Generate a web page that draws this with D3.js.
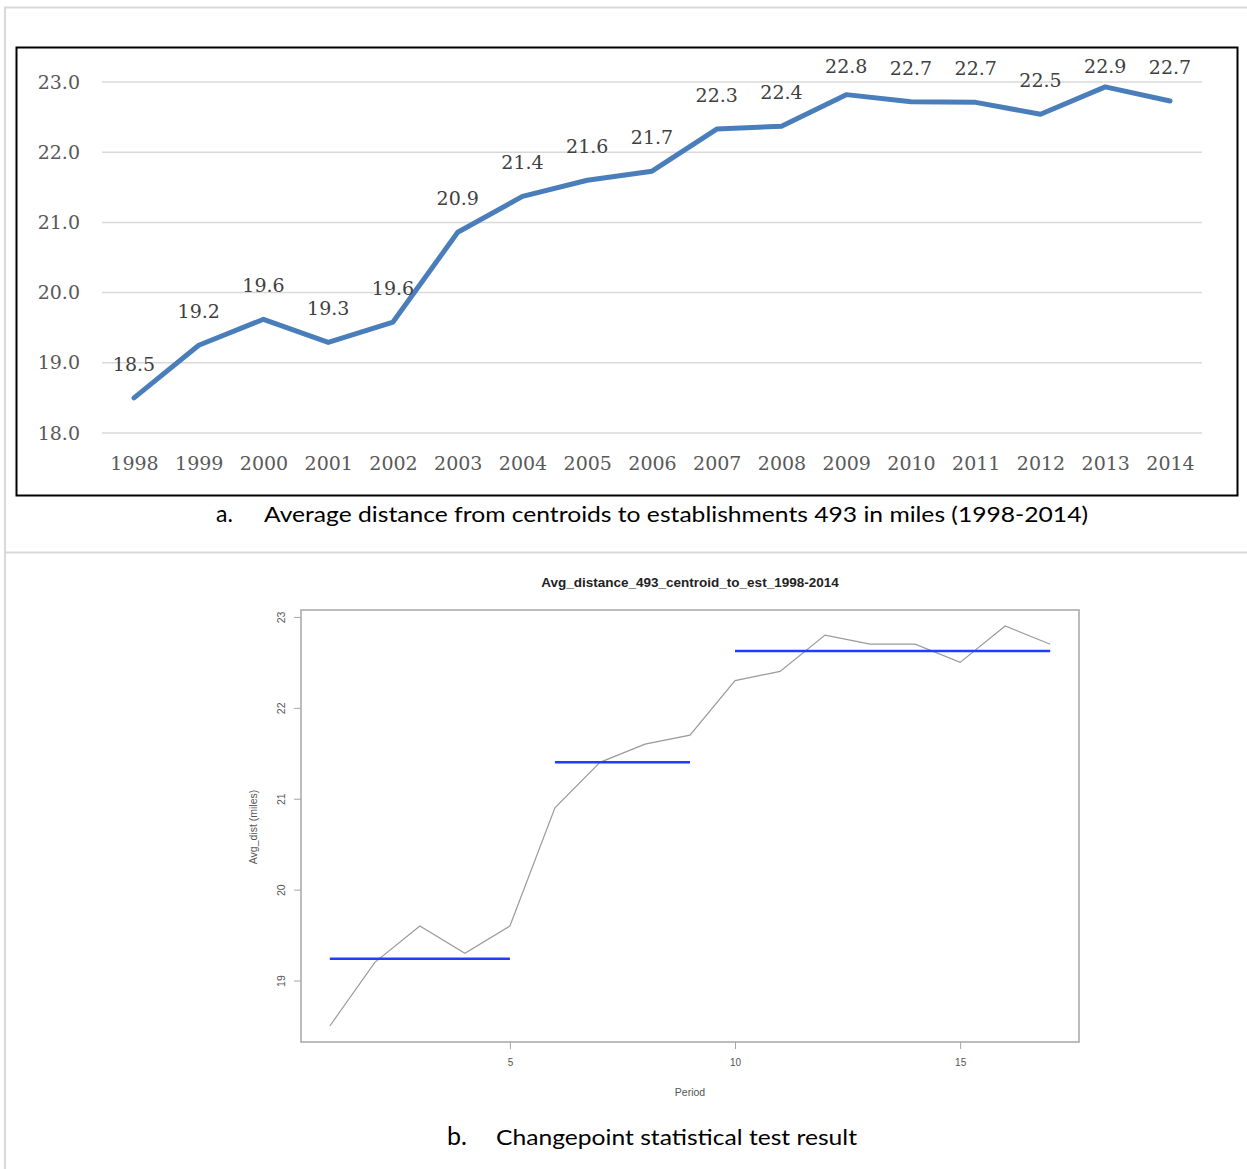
<!DOCTYPE html>
<html>
<head>
<meta charset="utf-8">
<script src="https://cdn.jsdelivr.net/npm/d3@7"></script>
<style>
  body { margin: 0; background: #fff; }
  svg { display: block; }
</style>
</head>
<body>
<div id="chart"></div>
<script>
// top chart data (Excel style)
var years = ["1998","1999","2000","2001","2002","2003","2004","2005","2006","2007","2008","2009","2010","2011","2012","2013","2014"];
var avgDist = [18.5, 19.25, 19.62, 19.29, 19.58, 20.86, 21.37, 21.6, 21.73, 22.33, 22.37, 22.82, 22.72, 22.71, 22.54, 22.93, 22.73];
var distLabels = ["18.5","19.2","19.6","19.3","19.6","20.9","21.4","21.6","21.7","22.3","22.4","22.8","22.7","22.7","22.5","22.9","22.7"];
var yTicksA = [18, 19, 20, 21, 22, 23];

// bottom chart data (R changepoint plot)
var periods = [1,2,3,4,5,6,7,8,9,10,11,12,13,14,15,16,17];
var periodDist = [18.5, 19.2, 19.6, 19.3, 19.6, 20.9, 21.4, 21.6, 21.7, 22.3, 22.4, 22.8, 22.7, 22.7, 22.5, 22.9, 22.7];
var segStart = [1, 6, 10];
var segEnd = [5, 9, 17];
var segMean = [19.24, 21.4, 22.625];
var xTicksB = [5, 10, 15];
var yTicksB = [19, 20, 21, 22, 23];

function init() {
    var W = 1247, H = 1169;
    var svg = d3.select("#chart").append("svg")
        .attr("width", W)
        .attr("height", H);

    // page table borders
    var border = "#d9d9d9";
    svg.append("line").attr("x1", 4).attr("x2", W).attr("y1", 7.5).attr("y2", 7.5)
        .attr("stroke", border).attr("stroke-width", 2);
    svg.append("line").attr("x1", 4).attr("x2", W).attr("y1", 552.5).attr("y2", 552.5)
        .attr("stroke", border).attr("stroke-width", 2);
    svg.append("line").attr("x1", 5).attr("x2", 5).attr("y1", 7).attr("y2", H)
        .attr("stroke", border).attr("stroke-width", 2);

    // ---------- chart a ----------
    svg.append("rect")
        .attr("x", 16.5).attr("y", 47.5)
        .attr("width", 1221).attr("height", 448)
        .attr("fill", "none")
        .attr("stroke", "#000")
        .attr("stroke-width", 2);

    var xa = d3.scalePoint().domain(years).range([134, 1170]);
    var ya = d3.scaleLinear().domain([18, 23]).range([433, 82]);

    var gA = svg.append("g");

    gA.selectAll("line.grid")
        .data(yTicksA)
        .enter()
        .append("line")
        .attr("class", "grid")
        .attr("x1", 102).attr("x2", 1202)
        .attr("y1", function(d) { return ya(d); })
        .attr("y2", function(d) { return ya(d); })
        .attr("stroke", "#d9d9d9")
        .attr("stroke-width", 1.5);

    var yAxisA = d3.axisLeft(ya).tickValues(yTicksA).tickSize(0).tickPadding(0)
        .tickFormat(d3.format(".1f"));
    gA.append("g")
        .attr("transform", "translate(80,0)")
        .call(yAxisA)
        .call(function(g) {
            g.select(".domain").remove();
            g.selectAll("text")
                .attr("fill", "#595959")
                .style("font-family", "'DejaVu Serif', serif")
                .style("font-size", "19px");
        });

    var xAxisA = d3.axisBottom(xa).tickSize(0).tickPadding(0);
    gA.append("g")
        .attr("transform", "translate(0,456)")
        .call(xAxisA)
        .call(function(g) {
            g.select(".domain").remove();
            g.selectAll("text")
                .attr("fill", "#595959")
                .style("font-family", "'DejaVu Serif', serif")
                .style("font-size", "19px");
        });

    var lineA = d3.line()
        .x(function(d, i) { return xa(years[i]); })
        .y(function(d) { return ya(d); });

    gA.append("path")
        .datum(avgDist)
        .attr("d", lineA)
        .attr("fill", "none")
        .attr("stroke", "#4a7ebb")
        .attr("stroke-width", 5)
        .attr("stroke-linejoin", "round")
        .attr("stroke-linecap", "round");

    gA.selectAll("text.lbl")
        .data(avgDist)
        .enter()
        .append("text")
        .attr("class", "lbl")
        .attr("x", function(d, i) { return xa(years[i]); })
        .attr("y", function(d) { return Math.max(ya(d) - 27, 73); })
        .attr("text-anchor", "middle")
        .attr("fill", "#404040")
        .style("font-family", "'DejaVu Serif', serif")
        .style("font-size", "19px")
        .text(function(d, i) { return distLabels[i]; });

    // caption a
    var capA = svg.append("text")
        .attr("y", 522)
        .style("font-family", "Lato, 'Open Sans', sans-serif")
        .style("font-size", "22px")
        .attr("fill", "#000");
    capA.append("tspan").attr("x", 216).style("font-size", "23px").text("a.");
    capA.append("tspan").attr("x", 264)
        .attr("textLength", 824)
        .attr("lengthAdjust", "spacingAndGlyphs")
        .text("Average distance from centroids to establishments 493 in miles (1998-2014)");

    // ---------- chart b ----------
    var xb = d3.scaleLinear().domain([0.36, 17.64]).range([301, 1079]);
    var yb = d3.scaleLinear().domain([18.324, 23.076]).range([1042, 610]);
    var gB = svg.append("g");
    var rFont = "'Liberation Sans', Arial, sans-serif";

    gB.append("rect")
        .attr("x", 301).attr("y", 610)
        .attr("width", 778).attr("height", 432)
        .attr("fill", "none")
        .attr("stroke", "#a6a6a6")
        .attr("stroke-width", 1.5);

    var xAxisB = d3.axisBottom(xb).tickValues(xTicksB).tickSize(7).tickPadding(10)
        .tickFormat(d3.format("d"));
    gB.append("g")
        .attr("transform", "translate(0,1042)")
        .call(xAxisB)
        .call(function(g) {
            g.select(".domain").remove();
            g.selectAll("line").attr("stroke", "#a6a6a6");
            g.selectAll("text")
                .attr("fill", "#555")
                .style("font-family", rFont)
                .style("font-size", "10px");
        });

    var yAxisB = d3.axisLeft(yb).tickValues(yTicksB).tickSize(7)
        .tickFormat(d3.format("d"));
    gB.append("g")
        .attr("transform", "translate(301,0)")
        .call(yAxisB)
        .call(function(g) {
            g.select(".domain").remove();
            g.selectAll("line").attr("stroke", "#a6a6a6");
            g.selectAll("text")
                .attr("x", null).attr("dy", null)
                .attr("text-anchor", "middle")
                .attr("transform", "translate(-16,0) rotate(-90)")
                .attr("fill", "#555")
                .style("font-family", rFont)
                .style("font-size", "10.5px");
        });

    var lineB = d3.line()
        .x(function(d, i) { return xb(periods[i]); })
        .y(function(d) { return yb(d); });

    gB.append("path")
        .datum(periodDist)
        .attr("d", lineB)
        .attr("fill", "none")
        .attr("stroke", "#9a9a9a")
        .attr("stroke-width", 1.2);

    gB.selectAll("line.seg")
        .data(segMean)
        .enter()
        .append("line")
        .attr("class", "seg")
        .attr("x1", function(d, i) { return xb(segStart[i]); })
        .attr("x2", function(d, i) { return xb(segEnd[i]); })
        .attr("y1", function(d) { return yb(d); })
        .attr("y2", function(d) { return yb(d); })
        .attr("stroke", "#1f3cff")
        .attr("stroke-width", 2.5);

    gB.append("text")
        .attr("x", 690).attr("y", 587)
        .attr("text-anchor", "middle")
        .style("font-family", rFont)
        .style("font-size", "13.5px")
        .style("font-weight", "bold")
        .attr("fill", "#222")
        .text("Avg_distance_493_centroid_to_est_1998-2014");

    gB.append("text")
        .attr("x", 690).attr("y", 1096)
        .attr("text-anchor", "middle")
        .style("font-family", rFont)
        .style("font-size", "10.5px")
        .attr("fill", "#555")
        .text("Period");

    gB.append("text")
        .attr("transform", "translate(257,827) rotate(-90)")
        .attr("text-anchor", "middle")
        .style("font-family", rFont)
        .style("font-size", "10.5px")
        .attr("fill", "#555")
        .text("Avg_dist (miles)");

    // caption b
    var capB = svg.append("text")
        .attr("y", 1145)
        .style("font-family", "Lato, 'Open Sans', sans-serif")
        .style("font-size", "22px")
        .attr("fill", "#000");
    capB.append("tspan").attr("x", 447).style("font-size", "25px").text("b.");
    capB.append("tspan").attr("x", 496)
        .attr("textLength", 361)
        .attr("lengthAdjust", "spacingAndGlyphs")
        .text("Changepoint statistical test result");
}
window.onload = init;
</script>
</body>
</html>
